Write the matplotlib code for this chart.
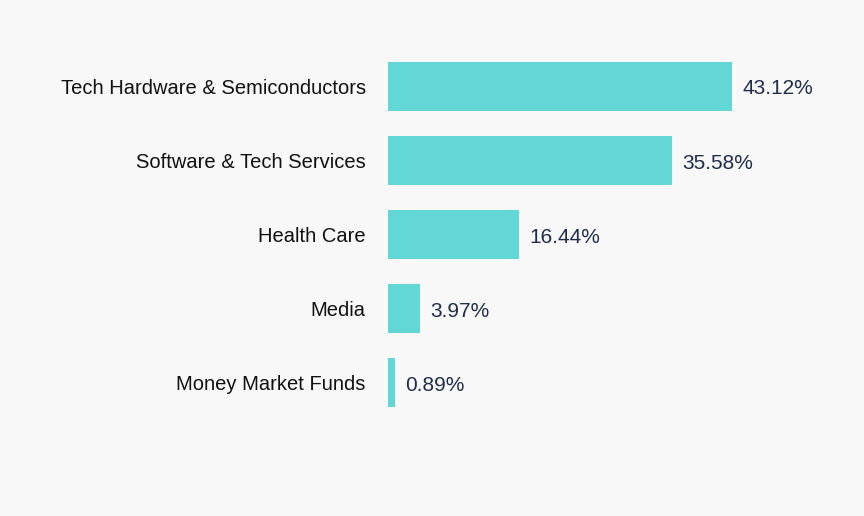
import matplotlib
matplotlib.use("Agg")
import matplotlib.pyplot as plt

# Sector breakdown
sectors = ["Tech Hardware & Semiconductors", "Software & Tech Services",
           "Health Care", "Media", "Money Market Funds"]
weights = [43.12, 35.58, 16.44, 3.97, 0.89]

bg = "#f8f8f8"
plt.rcParams["font.family"] = ["Liberation Sans", "DejaVu Sans"]

fig = plt.figure(figsize=(8.64, 5.16), dpi=100, facecolor=bg)
ax = fig.add_axes([388 / 864, 1 - 420 / 516, 432 / 864, 371 / 516])
ax.set_facecolor(bg)

pos = list(range(len(sectors)))
ax.barh(pos, weights, height=0.66, color="#62d7d5")
for p, w in zip(pos, weights):
    ax.annotate(f"{w:.2f}%", (w, p), xytext=(7.5, -2), textcoords="offset points",
                va="center", ha="left", fontsize=15, color="#1f2d4b")

ax.set_xlim(0, 432 / 7.98)
ax.set_ylim(len(sectors) - 0.5, -0.5)
ax.set_yticks(pos)
ax.set_yticklabels(sectors, fontsize=14.5, color="#111111")
ax.tick_params(axis="y", length=0, pad=16)
ax.set_xticks([])
for s in ax.spines.values():
    s.set_visible(False)

fig.savefig("out.png", dpi=100, facecolor=bg)
